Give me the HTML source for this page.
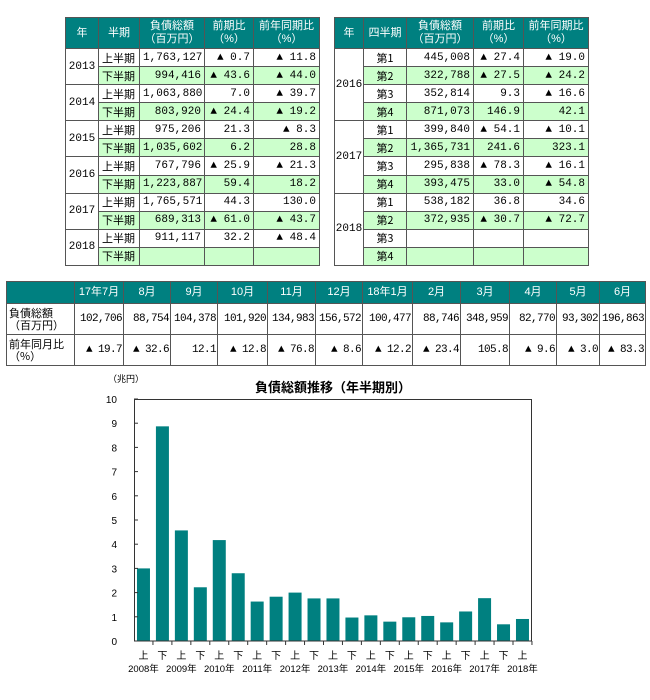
<!DOCTYPE html>
<html><head><meta charset="utf-8"><style>
body{margin:0;width:650px;height:700px;background:#fff;position:relative;font-family:"Liberation Mono","Noto Sans CJK JP",monospace;font-size:11px;color:#000;overflow:hidden}
table{position:absolute;border-collapse:collapse;table-layout:fixed}
td{border:1px solid #555;padding:0 3px;white-space:nowrap;line-height:12px;text-align:right;overflow:hidden}
th{border:1px solid #555;background:#008080;color:#fff;font-weight:normal;line-height:13px;font-family:"Liberation Sans","Noto Sans CJK JP",sans-serif;font-size:11px}
tr.g td:not(.y){background:#ccffcc}
.y{text-align:center;background:#fff;padding:0}
.k{text-align:left;font-family:"Noto Sans CJK JP",sans-serif}
.q{text-align:center;font-family:"Noto Sans CJK JP",sans-serif}
.m td{font-size:11px;letter-spacing:-0.6px;padding:0 1px}
.m td.k{letter-spacing:0;padding:0 2px}
</style></head><body>
<table style="left:65px;top:17px;width:254px;height:249px">
<colgroup><col style="width:33px"><col style="width:41px"><col style="width:65px"><col style="width:49px"><col style="width:66px"></colgroup>
<tr style="height:31px"><th>年</th><th>半期</th><th>負債総額<br>（百万円）</th><th>前期比<br>（%）</th><th>前年同期比<br>（%）</th></tr>
<tr><td class="y" rowspan="2">2013</td><td class="k">上半期</td><td>1,763,127</td><td>▲ 0.7</td><td>▲ 11.8</td></tr>
<tr class="g"><td class="k">下半期</td><td>994,416</td><td>▲ 43.6</td><td>▲ 44.0</td></tr>
<tr><td class="y" rowspan="2">2014</td><td class="k">上半期</td><td>1,063,880</td><td>7.0</td><td>▲ 39.7</td></tr>
<tr class="g"><td class="k">下半期</td><td>803,920</td><td>▲ 24.4</td><td>▲ 19.2</td></tr>
<tr><td class="y" rowspan="2">2015</td><td class="k">上半期</td><td>975,206</td><td>21.3</td><td>▲ 8.3</td></tr>
<tr class="g"><td class="k">下半期</td><td>1,035,602</td><td>6.2</td><td>28.8</td></tr>
<tr><td class="y" rowspan="2">2016</td><td class="k">上半期</td><td>767,796</td><td>▲ 25.9</td><td>▲ 21.3</td></tr>
<tr class="g"><td class="k">下半期</td><td>1,223,887</td><td>59.4</td><td>18.2</td></tr>
<tr><td class="y" rowspan="2">2017</td><td class="k">上半期</td><td>1,765,571</td><td>44.3</td><td>130.0</td></tr>
<tr class="g"><td class="k">下半期</td><td>689,313</td><td>▲ 61.0</td><td>▲ 43.7</td></tr>
<tr><td class="y" rowspan="2">2018</td><td class="k">上半期</td><td>911,117</td><td>32.2</td><td>▲ 48.4</td></tr>
<tr class="g"><td class="k">下半期</td><td></td><td></td><td></td></tr>
</table>
<table style="left:334px;top:17px;width:254px;height:249px">
<colgroup><col style="width:29px"><col style="width:43px"><col style="width:67px"><col style="width:50px"><col style="width:65px"></colgroup>
<tr style="height:31px"><th>年</th><th>四半期</th><th>負債総額<br>（百万円）</th><th>前期比<br>（%）</th><th>前年同期比<br>（%）</th></tr>
<tr><td class="y" rowspan="4">2016</td><td class="q">第1</td><td>445,008</td><td>▲ 27.4</td><td>▲ 19.0</td></tr>
<tr class="g"><td class="q">第2</td><td>322,788</td><td>▲ 27.5</td><td>▲ 24.2</td></tr>
<tr><td class="q">第3</td><td>352,814</td><td>9.3</td><td>▲ 16.6</td></tr>
<tr class="g"><td class="q">第4</td><td>871,073</td><td>146.9</td><td>42.1</td></tr>
<tr><td class="y" rowspan="4">2017</td><td class="q">第1</td><td>399,840</td><td>▲ 54.1</td><td>▲ 10.1</td></tr>
<tr class="g"><td class="q">第2</td><td>1,365,731</td><td>241.6</td><td>323.1</td></tr>
<tr><td class="q">第3</td><td>295,838</td><td>▲ 78.3</td><td>▲ 16.1</td></tr>
<tr class="g"><td class="q">第4</td><td>393,475</td><td>33.0</td><td>▲ 54.8</td></tr>
<tr><td class="y" rowspan="4">2018</td><td class="q">第1</td><td>538,182</td><td>36.8</td><td>34.6</td></tr>
<tr class="g"><td class="q">第2</td><td>372,935</td><td>▲ 30.7</td><td>▲ 72.7</td></tr>
<tr><td class="q">第3</td><td></td><td></td><td></td></tr>
<tr class="g"><td class="q">第4</td><td></td><td></td><td></td></tr>
</table>
<table class="m" style="left:6px;top:281px;width:639px;height:85px">
<colgroup><col style="width:68px"><col style="width:49px"><col style="width:47px"><col style="width:47px"><col style="width:50px"><col style="width:48px"><col style="width:47px"><col style="width:50px"><col style="width:48px"><col style="width:49px"><col style="width:47px"><col style="width:43px"><col style="width:46px"></colgroup>
<tr style="height:22px"><th></th><th>17年7月</th><th>8月</th><th>9月</th><th>10月</th><th>11月</th><th>12月</th><th>18年1月</th><th>2月</th><th>3月</th><th>4月</th><th>5月</th><th>6月</th></tr>
<tr style="height:31px"><td class="k">負債総額<br>（百万円）</td><td>102,706</td><td>88,754</td><td>104,378</td><td>101,920</td><td>134,983</td><td>156,572</td><td>100,477</td><td>88,746</td><td>348,959</td><td>82,770</td><td>93,302</td><td>196,863</td></tr>
<tr style="height:31px"><td class="k">前年同月比<br>（%）</td><td>▲ 19.7</td><td>▲ 32.6</td><td>12.1</td><td>▲ 12.8</td><td>▲ 76.8</td><td>▲ 8.6</td><td>▲ 12.2</td><td>▲ 23.4</td><td>105.8</td><td>▲ 9.6</td><td>▲ 3.0</td><td>▲ 83.3</td></tr>
</table>
<svg style="position:absolute;left:0;top:0" width="650" height="700" font-family="Liberation Sans, Noto Sans CJK JP, sans-serif" font-size="10">
<text x="108" y="382" font-family="Noto Sans CJK JP, sans-serif" font-size="9">（兆円）</text>
<text x="333" y="392" text-anchor="middle" font-weight="bold" font-size="13" font-family="Noto Sans CJK JP, sans-serif">負債総額推移（年半期別）</text>
<g fill="#008080" id="bars"></g>
<rect x="134.5" y="399.5" width="397" height="241.5" fill="none" stroke="#333"/>
<g id="ax"></g>
</svg>
<script>
var v=[3.0,8.87,4.57,2.22,4.17,2.8,1.63,1.83,2.0,1.76,1.76,0.97,1.06,0.80,0.98,1.035,0.77,1.22,1.77,0.69,0.91];
var s='',a='',x0=134,w=18.95,yb=641,k=24.2;
v.forEach(function(d,i){var cx=x0+w*i+w/2;s+='<rect x="'+(cx-6.5)+'" y="'+(yb-d*k)+'" width="13" height="'+(d*k)+'"/>';
a+='<text x="'+cx+'" y="659" text-anchor="middle" font-family="Noto Sans CJK JP,sans-serif">'+(i%2?'下':'上')+'</text>';
if(i%2==0)a+='<text x="'+cx+'" y="672" text-anchor="middle" font-size="9.5" font-family="Liberation Sans,Noto Sans CJK JP,sans-serif">'+(2008+i/2)+'年</text>';
a+='<line x1="'+(x0+w*(i+1))+'" y1="641" x2="'+(x0+w*(i+1))+'" y2="645" stroke="#333"/>';});
for(var j=0;j<=10;j++){var y=yb-j*k;a+='<text x="117" y="'+(y+4)+'" text-anchor="end">'+j+'</text><line x1="134" y1="'+y+'" x2="138" y2="'+y+'" stroke="#333"/>';}
document.getElementById('bars').innerHTML=s;document.getElementById('ax').innerHTML=a;
</script>
</body></html>
